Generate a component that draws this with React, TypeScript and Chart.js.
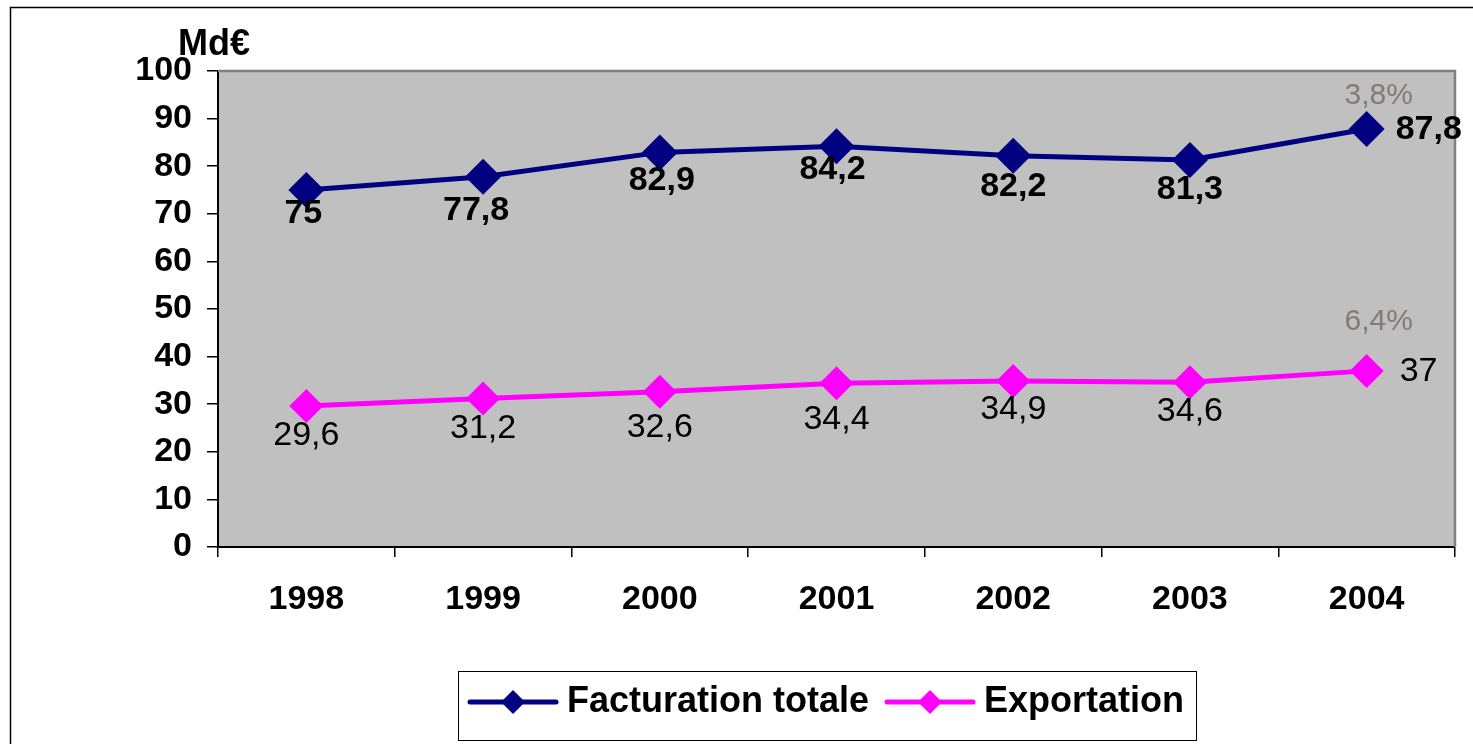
import { useEffect, useRef } from "react";
import { Chart, registerables } from "chart.js";
Chart.register(...registerables);

const years = ["1998", "1999", "2000", "2001", "2002", "2003", "2004"];
const facturation = [75, 77.8, 82.9, 84.2, 82.2, 81.3, 87.8];
const exportation = [29.6, 31.2, 32.6, 34.4, 34.9, 34.6, 37];
const seriesNames = ["Facturation totale", "Exportation"];
const growthLabels = ["3,8%", "6,4%"];
const unitLabel = "Md€";
const yMin = 0;
const yMax = 100;
const yStep = 10;

// label nudges (style only): vertical distance below each point
const labelDrop = [
  [24, 34, 28, 23, 31, 30],
  [30, 30, 36, 36, 29, 29],
];
const labelShiftX = [
  [-3, -7, 2, -4, 0, 0],
  [0, 0, 0, 0, 0, 0],
];

const FONT = "'Liberation Sans', Arial, sans-serif";
const NAVY = "#000080";
const MAGENTA = "#ff00ff";

const fmt = (v: number) => String(v).replace(".", ",");

const decorPlugin = {
  id: "decor",
  beforeDraw(chart: any) {
    const { ctx, chartArea: a, width, height } = chart;
    ctx.save();
    ctx.fillStyle = "#ffffff";
    ctx.fillRect(0, 0, width, height);
    ctx.strokeStyle = "#000000";
    ctx.lineWidth = 1.5;
    ctx.strokeRect(10.5, 7.5, width + 20, height + 20);
    ctx.fillStyle = "#c0c0c0";
    ctx.fillRect(a.left, a.top, a.right - a.left, a.bottom - a.top);
    ctx.restore();
  },
  beforeDatasetsDraw(chart: any) {
    const { ctx, chartArea: a } = chart;
    ctx.save();
    ctx.strokeStyle = "#808080";
    ctx.lineWidth = 2.5;
    ctx.beginPath();
    ctx.moveTo(a.left, a.top);
    ctx.lineTo(a.right, a.top);
    ctx.lineTo(a.right, a.bottom);
    ctx.stroke();
    ctx.restore();
  },
  afterDatasetsDraw(chart: any) {
    const { ctx } = chart;
    ctx.save();
    ctx.textBaseline = "middle";
    chart.data.datasets.forEach((ds: any, di: number) => {
      const meta = chart.getDatasetMeta(di);
      const last = meta.data.length - 1;
      ctx.font = `${di === 0 ? "bold " : ""}34px ${FONT}`;
      ctx.fillStyle = "#000000";
      meta.data.forEach((pt: any, i: number) => {
        const txt = fmt(ds.data[i]);
        if (i === last) {
          ctx.textAlign = "left";
          ctx.fillText(txt, pt.x + (di === 0 ? 29 : 33), pt.y + 1);
        } else {
          ctx.textAlign = "center";
          ctx.fillText(txt, pt.x + labelShiftX[di][i], pt.y + labelDrop[di][i]);
        }
      });
      const lp = meta.data[last];
      ctx.font = `30px ${FONT}`;
      ctx.fillStyle = "#857979";
      ctx.textAlign = "center";
      ctx.fillText(growthLabels[di], lp.x + 12, lp.y + (di === 0 ? -33 : -49));
    });
    ctx.restore();
  },
  afterDraw(chart: any) {
    const { ctx } = chart;
    ctx.save();
    // unit label
    ctx.font = `bold 36px ${FONT}`;
    ctx.fillStyle = "#000000";
    ctx.textAlign = "left";
    ctx.textBaseline = "middle";
    ctx.fillText(unitLabel, 178, 45);
    // legend
    ctx.strokeStyle = "#000000";
    ctx.lineWidth = 1;
    ctx.strokeRect(458.5, 671.5, 738, 69);
    const cy = 702;
    const starts = [470, 887];
    chart.data.datasets.forEach((ds: any, di: number) => {
      const x0 = starts[di];
      ctx.strokeStyle = ds.borderColor;
      ctx.lineWidth = 5;
      ctx.lineCap = "round";
      ctx.beginPath();
      ctx.moveTo(x0, cy);
      ctx.lineTo(x0 + 86, cy);
      ctx.stroke();
      ctx.fillStyle = ds.borderColor;
      const cx = x0 + 43;
      const r = 12;
      ctx.beginPath();
      ctx.moveTo(cx, cy - r);
      ctx.lineTo(cx + r, cy);
      ctx.lineTo(cx, cy + r);
      ctx.lineTo(cx - r, cy);
      ctx.closePath();
      ctx.fill();
      ctx.fillStyle = "#000000";
      ctx.font = `bold 36px ${FONT}`;
      ctx.textAlign = "left";
      ctx.fillText(ds.label, x0 + 97, cy);
    });
    ctx.restore();
  },
};

export default function App() {
  const ref = useRef<HTMLCanvasElement | null>(null);
  useEffect(() => {
    if (!ref.current) return;
    const chart = new Chart(ref.current, {
      type: "line",
      data: {
        labels: years,
        datasets: [
          {
            label: seriesNames[0],
            data: facturation,
            borderColor: NAVY,
            backgroundColor: NAVY,
            borderWidth: 5,
            pointStyle: "rectRot",
            pointRadius: 18,
            pointBorderWidth: 0,
            tension: 0,
          },
          {
            label: seriesNames[1],
            data: exportation,
            borderColor: MAGENTA,
            backgroundColor: MAGENTA,
            borderWidth: 5,
            pointStyle: "rectRot",
            pointRadius: 17,
            pointBorderWidth: 0,
            tension: 0,
          },
        ],
      },
      options: {
        responsive: false,
        animation: false,
        layout: { padding: { left: 0, right: 15, top: 71, bottom: 0 } },
        plugins: {
          legend: { display: false },
          tooltip: { enabled: false },
        },
        scales: {
          x: {
            type: "category",
            offset: true,
            grid: {
              offset: true,
              drawOnChartArea: false,
              tickLength: 10,
              color: "#000000",
              lineWidth: 1.5,
            },
            border: { display: true, color: "#000000", width: 2 },
            ticks: {
              color: "#000000",
              font: { family: FONT, size: 34, weight: "bold" },
              padding: 22,
              maxRotation: 0,
            },
            afterFit: (s: any) => {
              s.height = 197;
            },
          },
          y: {
            min: yMin,
            max: yMax,
            grid: {
              drawOnChartArea: false,
              tickLength: 11,
              color: "#000000",
              lineWidth: 1.5,
            },
            border: { display: true, color: "#000000", width: 2 },
            ticks: {
              stepSize: yStep,
              color: "#000000",
              font: { family: FONT, size: 34, weight: "bold" },
              padding: 15,
            },
            afterFit: (s: any) => {
              s.width = 218;
            },
          },
        },
      },
      plugins: [decorPlugin],
    } as any);
    return () => chart.destroy();
  }, []);
  return (
    <div style={{ position: "absolute", left: 0, top: 0, width: 1473, height: 744 }}>
      <canvas ref={ref} width={1473} height={744} />
    </div>
  );
}
